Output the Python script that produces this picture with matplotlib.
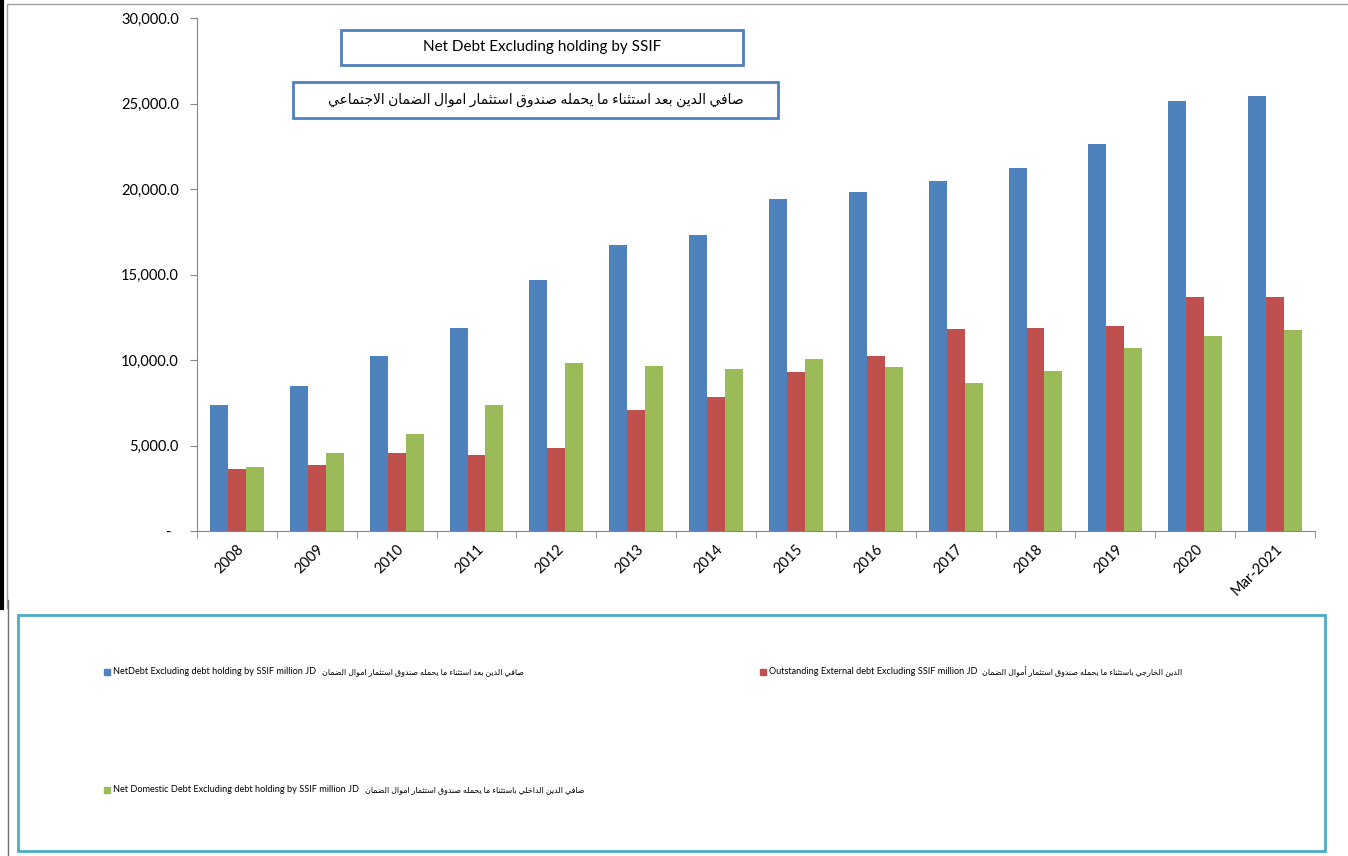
import numpy as np
import matplotlib
matplotlib.use("Agg")
import matplotlib.pyplot as plt
from matplotlib.patches import Rectangle
from matplotlib.lines import Line2D
from matplotlib.ticker import FuncFormatter

plt.rcParams['font.family'] = ['Lato', 'DejaVu Sans']

# data (million JD)
years = ['2008', '2009', '2010', '2011', '2012', '2013', '2014',
         '2015', '2016', '2017', '2018', '2019', '2020', 'Mar-2021']
net_debt = [7370, 8480, 10230, 11870, 14680, 16720, 17310,
            19420, 19830, 20470, 21230, 22630, 25150, 25440]
external_debt = [3630, 3860, 4560, 4440, 4850, 7080, 7840,
                 9300, 10230, 11810, 11870, 11990, 13680, 13680]
domestic_debt = [3740, 4560, 5670, 7370, 9830, 9650, 9470,
                 10060, 9590, 8660, 9360, 10700, 11400, 11750]

title_en = 'Net Debt Excluding holding by SSIF'
title_ar = 'صافي الدين بعد استثناء ما يحمله صندوق استثمار اموال الضمان الاجتماعي'
legend_en = ['NetDebt Excluding debt holding by SSIF million JD',
             'Outstanding External debt Excluding SSIF million JD',
             'Net Domestic Debt Excluding debt holding by SSIF million JD']
legend_ar = ['صافي الدين بعد استثناء ما يحمله صندوق استثمار اموال الضمان',
             'الدين الخارجي باستثناء ما يحمله صندوق استثمار أموال الضمان',
             'صافي الدين الداخلي باستثناء ما يحمله صندوق استثمار اموال الضمان']

colors = ['#4F81BD', '#C0504D', '#9BBB59']

# --- simple arabic shaping (matplotlib has no complex text layout) ---
FORMS = {'\u0621': (0xFE80, 1)}
for ch, start in [('\u0627', 0xFE8D), ('\u0623', 0xFE83), ('\u0625', 0xFE87),
                  ('\u0622', 0xFE81), ('\u062F', 0xFEA9), ('\u0630', 0xFEAB),
                  ('\u0631', 0xFEAD), ('\u0632', 0xFEAF), ('\u0648', 0xFEED),
                  ('\u0629', 0xFE93), ('\u0649', 0xFEEF)]:
    FORMS[ch] = (start, 2)
for ch, start in [('\u0628', 0xFE8F), ('\u062A', 0xFE95), ('\u062B', 0xFE99),
                  ('\u062C', 0xFE9D), ('\u062D', 0xFEA1), ('\u062E', 0xFEA5),
                  ('\u0633', 0xFEB1), ('\u0634', 0xFEB5), ('\u0635', 0xFEB9),
                  ('\u0636', 0xFEBD), ('\u0637', 0xFEC1), ('\u0638', 0xFEC5),
                  ('\u0639', 0xFEC9), ('\u063A', 0xFECD), ('\u0641', 0xFED1),
                  ('\u0642', 0xFED5), ('\u0643', 0xFED9), ('\u0644', 0xFEDD),
                  ('\u0645', 0xFEE1), ('\u0646', 0xFEE5), ('\u0647', 0xFEE9),
                  ('\u064A', 0xFEF1), ('\u0626', 0xFE89)]:
    FORMS[ch] = (start, 4)
LAM_ALEF = {'\u0627': (0xFEFB, 2), '\u0623': (0xFEF7, 2),
            '\u0625': (0xFEF9, 2), '\u0622': (0xFEF5, 2)}


def shape_ar(text):
    toks = []
    i = 0
    while i < len(text):
        c = text[i]
        if c == '\u0644' and i + 1 < len(text) and text[i + 1] in LAM_ALEF:
            toks.append(LAM_ALEF[text[i + 1]])
            i += 2
        else:
            toks.append(FORMS.get(c, c))
            i += 1
    out = []
    for k, t in enumerate(toks):
        if not isinstance(t, tuple):
            out.append(t)
            continue
        start, n = t
        prev = toks[k - 1] if k > 0 else None
        nxt = toks[k + 1] if k + 1 < len(toks) else None
        jp = isinstance(prev, tuple) and prev[1] == 4
        jn = n == 4 and isinstance(nxt, tuple) and nxt[1] > 1
        if n == 1:
            form = 0
        elif jp and jn:
            form = 3
        elif jp:
            form = 1
        elif jn:
            form = 2
        else:
            form = 0
        out.append(chr(start + form))
    return ''.join(reversed(out))


W, H = 1348, 856
fig = plt.figure(figsize=(W / 100, H / 100), dpi=100)


def fx(px):
    return px / W


def fy(py):
    return 1 - py / H


ax = fig.add_axes([fx(197), fy(531), fx(1315) - fx(197), fy(18) - fy(531)])

x = np.arange(len(years))
w = 0.225
ax.bar(x - w, net_debt, w, color=colors[0])
ax.bar(x, external_debt, w, color=colors[1])
ax.bar(x + w, domestic_debt, w, color=colors[2])

ax.set_xlim(-0.5, len(years) - 0.5)
ax.set_ylim(0, 30000)
ax.set_yticks(np.arange(0, 30001, 5000))
ax.yaxis.set_major_formatter(FuncFormatter(lambda v, p: '-  ' if v == 0 else f'{v:,.1f}'))
ax.set_xticks(x)
ax.set_xticklabels(years, rotation=45, ha='right', rotation_mode='anchor')
ax.set_xticks(np.arange(-0.5, len(years)), minor=True)
ax.tick_params(axis='x', which='major', length=0, pad=8, labelsize=10.5)
ax.tick_params(axis='x', which='minor', length=5, color='#868686')
ax.tick_params(axis='y', length=5, color='#868686', pad=8, labelsize=10.5)
for s in ['top', 'right']:
    ax.spines[s].set_visible(False)
for s in ['left', 'bottom']:
    ax.spines[s].set_color('#868686')

# title boxes
fig.add_artist(Rectangle((fx(341), fy(65)), fx(743) - fx(341), fy(30) - fy(65),
                         transform=fig.transFigure, fill=False,
                         edgecolor='#4F81BD', lw=2))
fig.text(fx(542), fy(47), title_en, ha='center', va='center', fontsize=11)
fig.add_artist(Rectangle((fx(293), fy(118)), fx(778) - fx(293), fy(82) - fy(118),
                         transform=fig.transFigure, fill=False,
                         edgecolor='#4F81BD', lw=2))
fig.text(fx(536), fy(100), shape_ar(title_ar), ha='center', va='center', fontsize=10)

# frame lines
fig.add_artist(Line2D([fx(2), fx(2)], [fy(0), fy(608)], transform=fig.transFigure,
                      color='black', lw=3))
fig.add_artist(Line2D([fx(7), fx(7), fx(1348)], [fy(608), fy(4), fy(4)],
                      transform=fig.transFigure, color='#a0a0a0', lw=1))
fig.add_artist(Line2D([fx(8), fx(8)], [fy(600), fy(856)], transform=fig.transFigure,
                      color='#707070', lw=1))

# legend box
fig.add_artist(Rectangle((fx(18), fy(851)), fx(1325) - fx(18), fy(615) - fy(851),
                         transform=fig.transFigure, fill=False,
                         edgecolor='#4BACC6', lw=2))
legend_pos = [(104, 672, 322), (760, 672, 982), (104, 790, 365)]
for (px, py, ar_x), en, ar, c in zip(legend_pos, legend_en, legend_ar, colors):
    fig.add_artist(Rectangle((fx(px), fy(py + 3)), fx(6), 6 / H,
                             transform=fig.transFigure, color=c))
    fig.text(fx(px + 9), fy(py), en, ha='left', va='center', fontsize=6.6)
    fig.text(fx(ar_x), fy(py), shape_ar(ar), ha='left', va='center', fontsize=5.7)

fig.savefig('out.png', dpi=100)
